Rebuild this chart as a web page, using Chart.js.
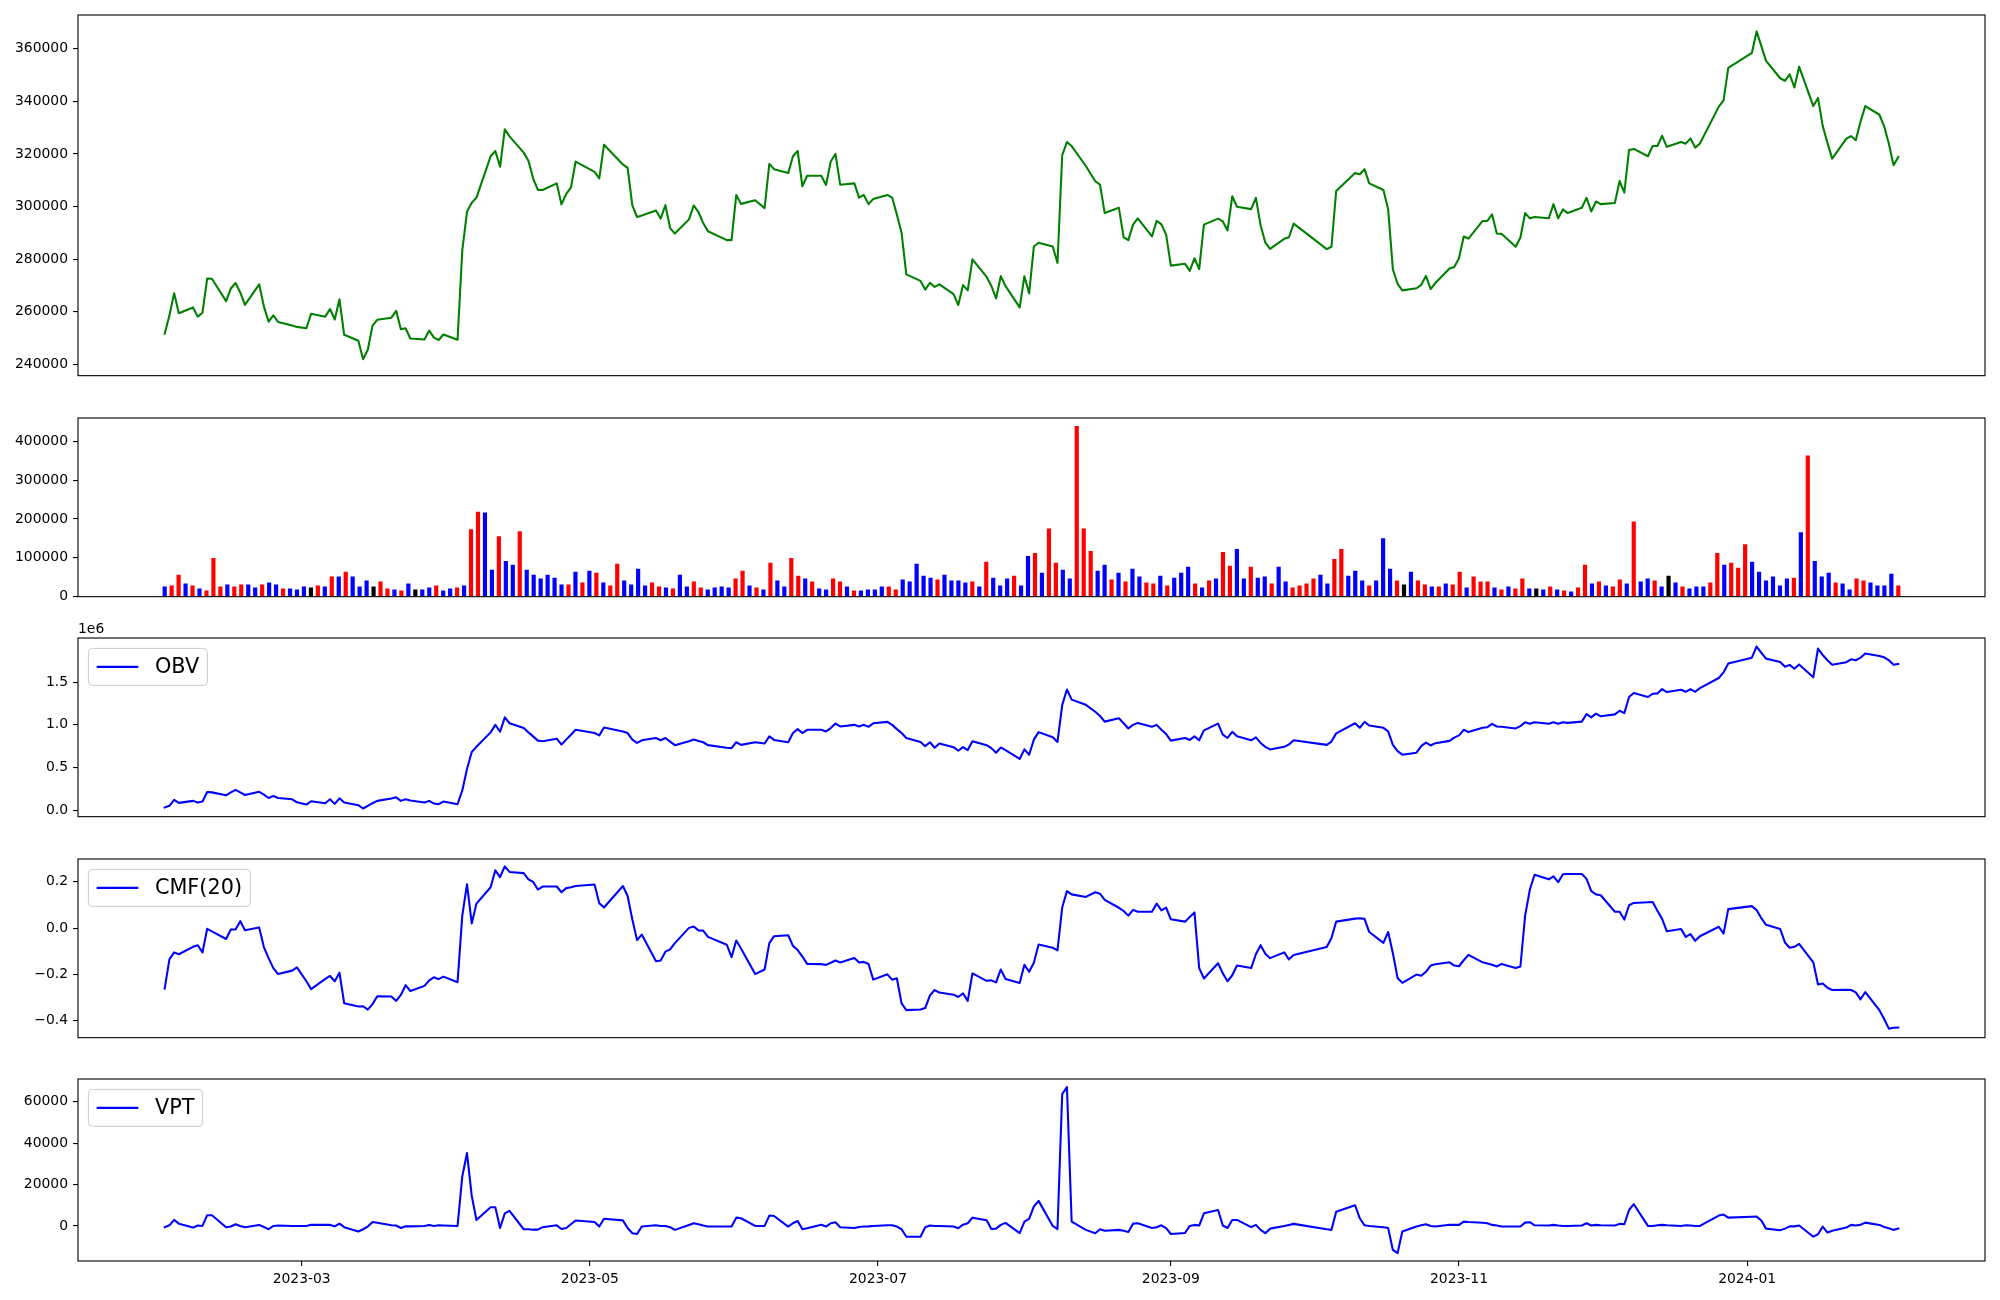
<!DOCTYPE html>
<html>
<head>
<meta charset="utf-8">
<script src="https://cdn.jsdelivr.net/npm/chart.js@4.4.0/dist/chart.umd.min.js"></script>
<style>
  html, body { margin: 0; padding: 0; background: #fff; }
  #wrap { position: relative; width: 2000px; height: 1300px; }
  #wrap canvas { position: absolute; left: 0; }
</style>
</head>
<body>
<div id="wrap"></div>
<script>
// trading calendar (KRX)
const startDate = '2023-01-31';
const endDate = '2024-02-02';
const holidays = ['2023-03-01', '2023-05-01', '2023-05-05', '2023-05-29', '2023-06-06', '2023-08-15',
  '2023-09-28', '2023-09-29', '2023-10-02', '2023-10-03', '2023-10-09', '2023-12-25', '2023-12-29', '2024-01-01'];

const closePrices = [251600,
  258500, 267000, 259400, 261600, 258100, 259600, 272600, 272500, 264000, 268800, 270900, 267300, 262600, 270400, 262000, 256200, 258600, 256100, 254700, 254200,
  253700, 259200, 258100, 261000, 257000, 264700, 251200, 248900, 241900, 245500, 254700, 256900, 257700, 260300, 253300, 253700, 249800, 249400, 252800, 250100, 249200, 251300,
  249300, 283300, 298000, 301400, 303400, 319100, 321100, 315100, 329400, 326700, 320500, 317400, 310700, 306300, 306300, 308800, 300800, 304800, 307200, 317100,
  313200, 310700, 323500, 316000, 314700, 300400, 296000, 296600, 298500, 295400, 300500, 291800, 289700, 295100, 300400, 297900, 293700, 290600, 287200, 287200,
  304400, 301000, 302400, 299400, 316200, 314200, 312700, 319100, 321100, 307700, 311700, 311700, 308200, 317100, 320000, 308300, 308800, 303400, 304400, 300900, 302900,
  304400, 303400, 296900, 289900, 274200, 271700, 268400, 271000, 269400, 270400, 266700, 262500, 270100, 268100, 279900, 273200, 269800, 265000, 273500, 269700, 261600,
  273500, 266900, 284800, 286200, 284800, 278500, 319500, 324500, 323000, 315400, 309600, 308300, 297500, 299500, 288300, 287200, 293100, 295500, 288600, 294600, 293200, 289300,
  277500, 278200, 275500, 280300, 276200, 293100, 295400, 294300, 290900, 303900, 299900, 299000, 303300, 292800, 286300, 283900, 287700, 288300, 293500,
  283800, 284700, 305900, 312700, 312300, 314200, 308800, 306300, 299000, 276100, 270600, 268100, 268900, 270200, 273600, 268600, 270900, 276400, 277000,
  280300, 288600, 287800, 294500, 294500, 297000, 289700, 289600, 284700, 288200, 297500, 295500, 296000, 295500, 300900, 295500, 298900, 297500, 299500, 303300, 298100, 301900,
  300900, 301300, 309700, 305300, 321500, 321900, 319100, 323000, 323000, 326900, 322700, 324500, 323900, 325900, 322400, 324000, 338000, 340400, 352700,
  358400, 366600, 361000, 355400, 348800, 347800, 350300, 345300, 353200, 338200, 341300, 330600, 324200, 318200, 325800, 326800, 325200, 332300, 338200, 334900, 330500, 323900,
  315700, 318900];

const volumes = [
  26200, 28700, 56600, 33800, 28700, 21100, 16100, 99700, 26200, 31300,
  26200, 31300, 31300, 23700, 31300, 36300, 31300, 21100, 21100, 18600,
  26200, 23700, 28700, 26200, 51600, 51600, 64200, 51600, 26200, 41400,
  26200, 38900, 21100, 18600, 16100, 33800, 18600, 18600, 23700, 28700,
  16100, 21100, 23700, 28700, 173300, 218900, 216400, 69300, 155500, 92100,
  82000, 168200, 69300, 56600, 46500, 56600, 49000, 31300, 31300, 64200,
  36300, 66800, 61700, 36300, 28700, 84500, 41400, 31300, 71900, 28700,
  36300, 26200, 23700, 21100, 56600, 26200, 38900, 23700, 18600, 23700,
  26200, 23700, 46500, 66800, 28700, 23700, 18600, 87100, 41400, 26200,
  99700, 54100, 46500, 38900, 21100, 18600, 46500, 38900, 26200, 16100,
  16100, 18600, 18600, 26200, 26200, 18600, 44000, 38900, 84500, 54100,
  49000, 44000, 56600, 41400, 41400, 36300, 38900, 26200, 89600, 49000,
  28700, 46500, 54100, 28700, 104800, 112400, 61700, 175800, 87100, 69300,
  46500, 439600, 175800, 117500, 66800, 82000, 44000, 61700, 38900, 71900,
  51600, 36300, 33800, 54100, 28700, 49000, 61700, 76900, 33800, 23700,
  41400, 46500, 115000, 79500, 122600, 46500, 76900, 49000, 51600, 33800,
  76900, 38900, 23700, 28700, 33800, 46500, 56600, 33800, 97200, 122600,
  54100, 66800, 41400, 28700, 41400, 150500, 71900, 41400, 31300, 64200,
  41400, 31300, 26200, 26200, 33800, 31300, 64200, 23700, 51600, 38900,
  38900, 23700, 18600, 26200, 21100, 46500, 21100, 21100, 18600, 26200,
  18600, 16100, 13500, 23700, 82000, 33800, 38900, 28700, 26200, 44000,
  33800, 193600, 38900, 46500, 41400, 26200, 54100, 36300, 26200, 21100,
  26200, 26200, 36300, 112400, 82000, 87100, 74400, 135200, 89600, 64200,
  41400, 51600, 28700, 46500, 49000, 165700, 363500, 92100, 51600, 61700,
  36300, 33800, 18600, 46500, 41400, 36300, 28700, 28700, 59200, 28700];

// candle direction per day: u = close above open, d = close below open, n = unchanged
const candleDir = ('duududuuud' + 'uudduddudd' + 'dnudududdd' + 'nuududnddu' + 'dduduuddud' +
  'duddddddud' + 'ududuudddd' + 'uududduudd' + 'dduudududd' + 'uududduudu' +
  'dddduudddd' + 'duddddudud' + 'ddudduduud' + 'duuuddudud' + 'duududddud' +
  'uduudduddu' + 'dduuuudduu' + 'dddudddund' + 'uududuuduu' + 'ududuudndu' +
  'duduududuu' + 'duddudndud' + 'dduuduuudd' + 'ddddududdd' + 'udduuddddu').split('');

const obvValues = [31000,
  50000, 119000, 85000, 108000, 88000, 100000, 212000, 208000, 173000, 208000, 238000, 208000, 177000, 215000, 181000, 142000, 165000, 142000, 127000, 92000,
  65000, 104000, 81000, 127000, 73000, 138000, 88000, 58000, 19000, 50000, 81000, 108000, 135000, 150000, 108000, 127000, 112000, 88000, 108000, 77000, 69000, 100000,
  69000, 231000, 481000, 681000, 742000, 912000, 1000000, 919000, 1088000, 1019000, 962000, 912000, 865000, 815000, 808000, 838000, 769000, 827000, 885000, 942000,
  904000, 877000, 969000, 923000, 904000, 827000, 788000, 819000, 846000, 819000, 846000, 804000, 762000, 808000, 827000, 812000, 796000, 762000, 731000, 727000,
  796000, 765000, 796000, 781000, 865000, 823000, 796000, 904000, 950000, 904000, 942000, 942000, 923000, 962000, 1015000, 981000, 1000000, 981000, 1000000, 977000, 1019000,
  1035000, 1000000, 950000, 904000, 846000, 800000, 750000, 796000, 731000, 781000, 738000, 696000, 738000, 704000, 808000, 762000, 727000, 673000, 735000, 704000, 600000,
  712000, 650000, 827000, 915000, 854000, 800000, 1231000, 1415000, 1296000, 1235000, 1154000, 1104000, 1038000, 1077000, 1019000, 958000, 1000000, 1023000, 977000, 1000000, 942000, 892000,
  815000, 846000, 823000, 865000, 819000, 935000, 1015000, 885000, 846000, 919000, 865000, 819000, 854000, 788000, 742000, 712000, 742000, 769000, 819000,
  765000, 804000, 900000, 1019000, 965000, 1035000, 992000, 965000, 923000, 765000, 692000, 650000, 673000, 750000, 792000, 758000, 785000, 812000, 850000,
  877000, 942000, 915000, 965000, 973000, 1012000, 981000, 977000, 958000, 985000, 1031000, 1012000, 1031000, 1012000, 1031000, 1012000, 1031000, 1023000, 1038000, 1127000, 1088000, 1131000,
  1100000, 1123000, 1165000, 1138000, 1327000, 1373000, 1327000, 1365000, 1369000, 1419000, 1385000, 1411000, 1388000, 1419000, 1388000, 1431000, 1550000, 1615000, 1719000,
  1788000, 1919000, 1846000, 1777000, 1738000, 1681000, 1704000, 1658000, 1708000, 1558000, 1896000, 1819000, 1758000, 1704000, 1735000, 1769000, 1758000, 1788000, 1838000, 1808000, 1792000, 1758000,
  1704000, 1715000];

const cmfValues = [-0.262,
  -0.135, -0.105, -0.113, -0.081, -0.074, -0.105, -0.003, -0.014, -0.047, -0.006, -0.006, 0.030, -0.009, 0.003, -0.082, -0.130, -0.173, -0.199, -0.184, -0.170,
  -0.230, -0.264, -0.220, -0.207, -0.230, -0.193, -0.325, -0.339, -0.338, -0.353, -0.329, -0.295, -0.296, -0.315, -0.289, -0.247, -0.272, -0.250, -0.226, -0.213, -0.221, -0.210,
  -0.234, 0.054, 0.190, 0.020, 0.106, 0.177, 0.250, 0.221, 0.267, 0.243, 0.238, 0.211, 0.200, 0.167, 0.180, 0.180, 0.155, 0.173, 0.177, 0.182,
  0.189, 0.108, 0.089, 0.182, 0.139, 0.037, -0.052, -0.028, -0.143, -0.140, -0.102, -0.092, -0.065, 0.001, 0.007, -0.010, -0.011, -0.038, -0.072, -0.126,
  -0.054, -0.088, -0.199, -0.179, -0.065, -0.035, -0.031, -0.077, -0.095, -0.123, -0.155, -0.156, -0.159, -0.150, -0.140, -0.149, -0.129, -0.149, -0.146, -0.155, -0.223,
  -0.200, -0.223, -0.217, -0.326, -0.355, -0.352, -0.346, -0.291, -0.268, -0.279, -0.288, -0.298, -0.282, -0.315, -0.196, -0.228, -0.226, -0.235, -0.179, -0.220, -0.237,
  -0.159, -0.189, -0.150, -0.071, -0.085, -0.096, 0.089, 0.160, 0.146, 0.135, 0.155, 0.149, 0.122, 0.088, 0.074, 0.054, 0.079, 0.071, 0.071, 0.106, 0.077, 0.089,
  0.038, 0.028, 0.048, 0.068, -0.173, -0.218, -0.152, -0.196, -0.230, -0.204, -0.162, -0.173, -0.113, -0.074, -0.111, -0.130, -0.105, -0.135, -0.116,
  -0.082, -0.043, 0.028, 0.041, 0.043, 0.040, -0.017, -0.064, -0.017, -0.109, -0.216, -0.237, -0.201, -0.206, -0.189, -0.162, -0.156, -0.148, -0.162,
  -0.165, -0.139, -0.116, -0.148, -0.153, -0.159, -0.166, -0.155, -0.173, -0.166, 0.054, 0.167, 0.231, 0.211, 0.224, 0.199, 0.233, 0.234, 0.234, 0.213, 0.160, 0.146,
  0.142, 0.071, 0.071, 0.037, 0.099, 0.109, 0.112, 0.113, 0.075, 0.040, -0.014, -0.004, -0.038, -0.026, -0.055, -0.035, 0.006, -0.024, 0.082,
  0.095, 0.078, 0.043, 0.014, -0.004, -0.062, -0.085, -0.081, -0.068, -0.148, -0.244, -0.240, -0.258, -0.268, -0.267, -0.268, -0.278, -0.308, -0.277, -0.355, -0.393, -0.435,
  -0.431, -0.430];

const vptValues = [-600,
  300, 2900, 1100, -800, 200, 0, 5200, 5200, -600, -300, 800, 0, -600, 500, -500, -1600, 0, 200, 0, 0,
  0, 600, 500, 500, -200, 1100, -600, -2700, -1600, -300, 1900, 1500, 300, 200, -1000, -200, -200, 0, 500, 0, 300, 200,
  0, 23900, 35200, 14500, 2900, 9000, 9000, -1000, 6100, 7300, -1600, -1600, -1800, -1800, -600, 300, -1500, -1000, 800, 2600,
  1900, -300, 3500, 2700, -1000, -3500, -3900, -300, 300, 0, 0, -600, -1900, 500, 1300, 800, 200, -300, -300, -300,
  4000, 3700, 0, 0, 5000, 4800, -300, 1300, 2400, -1600, -1100, 600, -300, 1300, 1800, -600, -1000, -500, -300, -200, 0,
  300, 300, -300, -1600, -5200, -5200, -600, 200, 0, 0, -300, -1100, 600, 1300, 4000, 2700, -1500, -1300, 500, 1500, -3500,
  2100, 3400, 9400, 12100, 0, -1500, 63700, 67100, 2100, -1900, -3500, -1600, -2300, -1900, -2300, -2900, 1100, 1300, -1000, -600, 300, -1100,
  -3900, -3400, 0, 500, 200, 6100, 7700, 200, -1000, 2900, 2900, -600, 500, -1900, -3500, -1300, 0, 500, 1000,
  -1600, -1900, 6900, 10000, 3700, 300, 0, -600, -1000, -11600, -13100, -2700, -300, 300, 800, 0, -300, 600, 500,
  500, 2100, 1900, 1500, 1300, 500, 200, -300, -300, -300, 1600, 1800, 300, 200, 500, 200, 0, 0, 200, 1300, 200, 500,
  300, 200, 1000, 800, 7700, 10500, 0, 0, 300, 500, 300, 0, 300, 200, 0, 0, 5000, 5500, 4000,
  4400, 4500, 2600, -1300, -2100, -1300, -200, -200, 200, -5200, -4000, -300, -3200, -2300, -800, 500, 200, 600, 1600, 500, -500, -1100,
  -1900, -1300];

const priceTicks = [240000, 260000, 280000, 300000, 320000, 340000, 360000];
const volumeTicks = [0, 100000, 200000, 300000, 400000];
const obvTicks = [0, 500000, 1000000, 1500000];
const cmfTicks = [-0.4, -0.2, 0, 0.2];
const vptTicks = [0, 20000, 40000, 60000];
const monthTicks = ['2023-03-01', '2023-05-01', '2023-07-01', '2023-09-01', '2023-11-01', '2024-01-01'];

// ---------------------------------------------------------------
function dayNum(s) {
  return Date.UTC(+s.slice(0, 4), +s.slice(5, 7) - 1, +s.slice(8, 10)) / 86400000;
}
function dayLabel(d) {
  const dt = new Date(d * 86400000);
  return dt.getUTCFullYear() + '-' + String(dt.getUTCMonth() + 1).padStart(2, '0');
}

const holidayDays = new Set(holidays.map(dayNum));
const tradingDays = [];
for (let d = dayNum(startDate); d <= dayNum(endDate); d++) {
  const wd = new Date(d * 86400000).getUTCDay();
  if (wd === 0 || wd === 6 || holidayDays.has(d)) continue;
  tradingDays.push(d);
}

const FONT = 'DejaVu Sans';
const TICK_PX = 13.9;
const AX_LEFT = 78;
const AX_RIGHT = 1985;
const PAD_T = 25;

// x range with matplotlib style 5% margins
const dFirst = tradingDays[0], dLast = tradingDays[tradingDays.length - 1];
const dMargin = (dLast - dFirst) * 0.05;
const idxMargin = (volumes.length - 1) * 0.05;

const framePlugin = {
  id: 'frame',
  afterDraw(chart) {
    const { ctx, chartArea: a } = chart;
    ctx.save();
    ctx.strokeStyle = '#000';
    ctx.lineWidth = 1.1;
    ctx.strokeRect(a.left, a.top, a.right - a.left, a.bottom - a.top);
    ctx.restore();
  }
};

const boxLegendPlugin = {
  id: 'boxLegend',
  afterDatasetsDraw(chart, args, opts) {
    if (!opts || !opts.show) return;
    const { ctx, chartArea: a } = chart;
    const ds = chart.data.datasets[0];
    const fs = 20.8;
    ctx.save();
    ctx.font = fs + 'px "' + FONT + '"';
    const tw = ctx.measureText(ds.label).width;
    const x0 = a.left + 10.4, y0 = a.top + 10.4;
    const w = 8.3 + 41.6 + 16.6 + tw + 8.3, h = 37;
    ctx.beginPath();
    ctx.roundRect(x0, y0, w, h, 4);
    ctx.fillStyle = 'rgba(255,255,255,0.8)';
    ctx.fill();
    ctx.strokeStyle = '#cccccc';
    ctx.lineWidth = 1;
    ctx.stroke();
    ctx.beginPath();
    ctx.moveTo(x0 + 8.3, y0 + h / 2);
    ctx.lineTo(x0 + 8.3 + 41.6, y0 + h / 2);
    ctx.strokeStyle = ds.borderColor;
    ctx.lineWidth = 2.08;
    ctx.stroke();
    ctx.fillStyle = '#000';
    ctx.textBaseline = 'middle';
    ctx.fillText(ds.label, x0 + 8.3 + 41.6 + 16.6, y0 + h / 2 + 1);
    ctx.restore();
  }
};

const offsetTextPlugin = {
  id: 'offsetText',
  afterDraw(chart, args, opts) {
    if (!opts || !opts.text) return;
    const { ctx, chartArea: a } = chart;
    ctx.save();
    ctx.font = TICK_PX + 'px "' + FONT + '"';
    ctx.fillStyle = '#000';
    ctx.textBaseline = 'alphabetic';
    ctx.fillText(opts.text, a.left, a.top - 5);
    ctx.restore();
  }
};

function yAxis(min, max, ticks, fmt) {
  return {
    type: 'linear', min: min, max: max, bounds: 'data',
    afterBuildTicks: ax => { ax.ticks = ticks.map(v => ({ value: v })); },
    afterFit: ax => { ax.width = AX_LEFT; },
    ticks: { callback: fmt, color: '#000', font: { family: FONT, size: TICK_PX }, padding: 5, autoSkip: false },
    grid: { drawOnChartArea: false, drawTicks: true, tickLength: 5, color: '#000', lineWidth: 1.1 },
    border: { display: false }
  };
}

function hiddenX(min, max) {
  return { type: 'linear', min: min, max: max, offset: false, display: false };
}

const wrap = document.getElementById('wrap');

function makePanel(top, bottom, padB, type, datasets, scales, pluginOpts) {
  const c = document.createElement('canvas');
  const h = bottom - top + PAD_T + padB;
  c.width = 2000;
  c.height = h;
  c.style.top = (top - PAD_T) + 'px';
  c.style.width = '2000px';
  c.style.height = h + 'px';
  wrap.appendChild(c);
  return new Chart(c, {
    type: type,
    data: { datasets: datasets },
    options: {
      responsive: false,
      animation: false,
      devicePixelRatio: 1,
      layout: { padding: { top: PAD_T, right: 2000 - AX_RIGHT, bottom: 10, left: 0 } },
      plugins: Object.assign({ legend: { display: false }, tooltip: { enabled: false } }, pluginOpts || {}),
      scales: scales
    },
    plugins: [boxLegendPlugin, offsetTextPlugin, framePlugin]
  });
}

function lineSet(label, values, color) {
  return {
    label: label,
    data: tradingDays.map((d, i) => ({ x: d, y: values[i] })),
    borderColor: color,
    borderWidth: 2.08,
    borderJoinStyle: 'round',
    borderCapStyle: 'square',
    pointRadius: 0,
    tension: 0,
    fill: false
  };
}

const xMin = dFirst - dMargin, xMax = dLast + dMargin;
const plain = v => String(v);

// price
makePanel(15, 379, 10, 'line',
  [lineSet('Close', closePrices, '#008000')],
  { x: hiddenX(xMin, xMax), y: yAxis(235650, 372850, priceTicks, plain) });

// volume (bars on trading-day index)
const barColors = { u: '#ff0000', d: '#0000ff', n: '#000000' };
makePanel(418, 600, 10, 'bar',
  [{
    label: 'Volume',
    data: volumes.map((v, i) => ({ x: i, y: v })),
    backgroundColor: candleDir.map(c => barColors[c]),
    borderWidth: 0,
    barPercentage: 0.6,
    categoryPercentage: 1.0
  }],
  { x: hiddenX(-idxMargin, volumes.length - 1 + idxMargin), y: yAxis(0, 460000, volumeTicks, plain) });

// OBV
makePanel(638, 820, 10, 'line',
  [lineSet('OBV', obvValues, '#0000ff')],
  { x: hiddenX(xMin, xMax), y: yAxis(-77000, 2019000, obvTicks, v => (v / 1e6).toFixed(1)) },
  { boxLegend: { show: true }, offsetText: { text: '1e6' } });

// CMF
makePanel(859, 1041, 10, 'line',
  [lineSet('CMF(20)', cmfValues, '#0000ff')],
  { x: hiddenX(xMin, xMax), y: yAxis(-0.474, 0.299, cmfTicks, v => (v < 0 ? '\u2212' : '') + Math.abs(v).toFixed(1)) },
  { boxLegend: { show: true } });

// VPT with date axis
makePanel(1079, 1261, 45, 'line',
  [lineSet('VPT', vptValues, '#0000ff')],
  {
    x: {
      type: 'linear', min: xMin, max: xMax, offset: false, position: 'bottom',
      afterBuildTicks: ax => { ax.ticks = monthTicks.map(s => ({ value: dayNum(s) })); },
      afterFit: ax => { ax.height = 35; },
      ticks: { callback: v => dayLabel(v), color: '#000', font: { family: FONT, size: TICK_PX }, padding: 5, maxRotation: 0, autoSkip: false },
      grid: { drawOnChartArea: false, drawTicks: true, tickLength: 5, color: '#000', lineWidth: 1.1 },
      border: { display: false }
    },
    y: yAxis(-16935, 70970, vptTicks, plain)
  },
  { boxLegend: { show: true } });
</script>
</body>
</html>
